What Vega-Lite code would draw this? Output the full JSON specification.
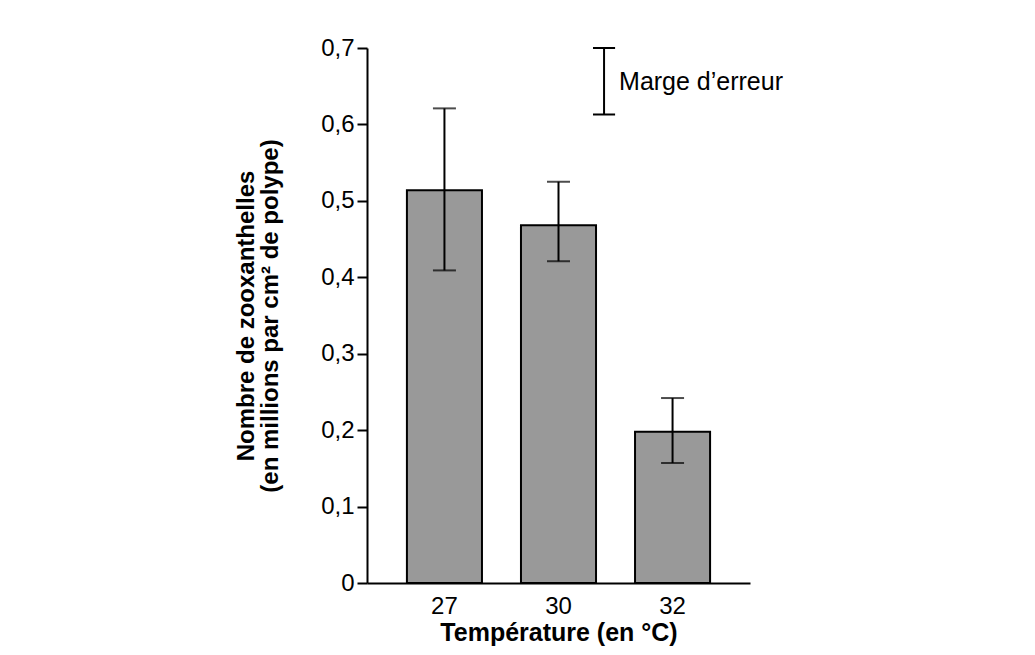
{
  "$schema": "https://vega.github.io/schema/vega-lite/v6.json",
  "autosize": "none",
  "width": 383,
  "height": 535,
  "padding": {"left": 367, "top": 48, "right": 285, "bottom": 72},
  "background": "#ffffff",
  "config": {
    "font": "Liberation Sans",
    "view": {"stroke": null},
    "axis": {
      "domainColor": "#000000",
      "domainWidth": 2,
      "tickColor": "#000000",
      "tickWidth": 2,
      "labelColor": "#000000",
      "titleColor": "#000000",
      "labelFont": "Liberation Sans",
      "titleFont": "Liberation Sans",
      "grid": false
    }
  },
  "datasets": {
    "bars": [
      {"temp": "27", "value": 0.514, "lo": 0.409, "hi": 0.621},
      {"temp": "30", "value": 0.468, "lo": 0.421, "hi": 0.525},
      {"temp": "32", "value": 0.198, "lo": 0.157, "hi": 0.242}
    ],
    "legend": [
      {"temp": "30", "lo": 0.613, "hi": 0.7, "mid": 0.656, "label": "Marge d’erreur"}
    ]
  },
  "layer": [
    {
      "data": {"name": "bars"},
      "mark": {"type": "bar", "fill": "#999999", "stroke": "#000000", "strokeWidth": 2},
      "encoding": {
        "x": {
          "field": "temp",
          "type": "ordinal",
          "scale": {"paddingInner": 0.342, "paddingOuter": 0.35},
          "axis": {
            "title": "Température (en °C)",
            "labelAngle": 0,
            "labelFontSize": 24,
            "titleFontSize": 25,
            "titleFontWeight": "bold",
            "ticks": false,
            "tickSize": 0,
            "labelPadding": 11,
            "titlePadding": 2
          }
        },
        "y": {
          "field": "value",
          "type": "quantitative",
          "scale": {"domain": [0, 0.7], "nice": false},
          "axis": {
            "title": ["Nombre de zooxanthelles", "(en millions par cm² de polype)"],
            "values": [0, 0.1, 0.2, 0.3, 0.4, 0.5, 0.6, 0.7],
            "labelExpr": "datum.value == 0 ? '0' : replace(format(datum.value, '.1f'), '.', ',')",
            "labelFontSize": 24,
            "labelPadding": 3,
            "tickSize": 10,
            "titleFontSize": 24,
            "titleFontWeight": "bold",
            "titleLineHeight": 24,
            "titlePadding": 38
          }
        }
      }
    },
    {
      "data": {"name": "bars"},
      "mark": {"type": "rule", "color": "#000000", "strokeWidth": 2},
      "encoding": {
        "x": {"field": "temp", "type": "ordinal"},
        "y": {"field": "lo", "type": "quantitative"},
        "y2": {"field": "hi"}
      }
    },
    {
      "data": {"name": "bars"},
      "mark": {"type": "tick", "color": "#000000", "size": 23, "thickness": 2},
      "encoding": {
        "x": {"field": "temp", "type": "ordinal"},
        "y": {"field": "lo", "type": "quantitative"}
      }
    },
    {
      "data": {"name": "bars"},
      "mark": {"type": "tick", "color": "#000000", "size": 23, "thickness": 2},
      "encoding": {
        "x": {"field": "temp", "type": "ordinal"},
        "y": {"field": "hi", "type": "quantitative"}
      }
    },
    {
      "data": {"name": "legend"},
      "mark": {"type": "rule", "color": "#000000", "strokeWidth": 2},
      "encoding": {
        "x": {"field": "temp", "type": "ordinal", "bandPosition": 1.107},
        "y": {"field": "lo", "type": "quantitative"},
        "y2": {"field": "hi"}
      }
    },
    {
      "data": {"name": "legend"},
      "mark": {"type": "rule", "color": "#000000", "strokeWidth": 2},
      "encoding": {
        "x": {"field": "temp", "type": "ordinal", "bandPosition": 0.96},
        "x2": {"field": "temp", "bandPosition": 1.254},
        "y": {"field": "lo", "type": "quantitative"}
      }
    },
    {
      "data": {"name": "legend"},
      "mark": {"type": "rule", "color": "#000000", "strokeWidth": 2},
      "encoding": {
        "x": {"field": "temp", "type": "ordinal", "bandPosition": 0.96},
        "x2": {"field": "temp", "bandPosition": 1.254},
        "y": {"field": "hi", "type": "quantitative"}
      }
    },
    {
      "data": {"name": "legend"},
      "mark": {"type": "text", "align": "left", "baseline": "middle", "dx": 15, "fontSize": 25, "color": "#000000", "font": "Liberation Sans"},
      "encoding": {
        "x": {"field": "temp", "type": "ordinal", "bandPosition": 1.107},
        "y": {"field": "mid", "type": "quantitative"},
        "text": {"field": "label"}
      }
    }
  ]
}
